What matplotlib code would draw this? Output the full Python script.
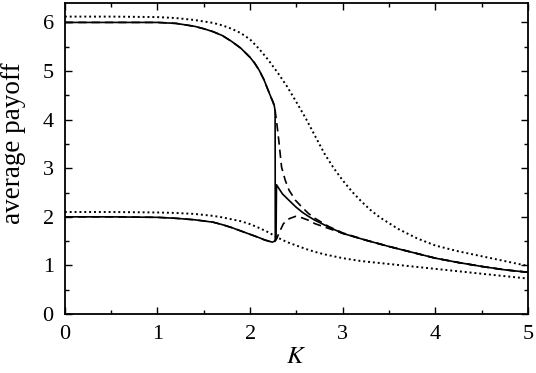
import matplotlib
matplotlib.use("Agg")
import matplotlib.pyplot as plt
from matplotlib import font_manager
from matplotlib.ticker import MultipleLocator

# upper solid branch (drops vertically near K = 2.27)
k_top = [0, 0.5, 1.0, 1.2, 1.4, 1.5, 1.6, 1.7, 1.8, 1.9, 2.0, 2.05, 2.1, 2.15, 2.2, 2.23, 2.25,
         2.26, 2.27, 2.272]
y_top = [6.0, 6.0, 6.0, 5.98, 5.92, 5.87, 5.81, 5.73, 5.61, 5.47, 5.28, 5.16, 5.01, 4.82, 4.58,
         4.44, 4.35, 4.30, 4.18, 1.52]

# lower solid branch (jumps up near K = 2.28, then decays)
k_low = [0, 0.5, 1.0, 1.2, 1.4, 1.6, 1.7, 1.8, 1.9, 2.0, 2.1, 2.15, 2.2, 2.24, 2.265, 2.28, 2.285,
         2.35, 2.42, 2.49, 2.56, 2.63, 2.70, 2.85, 3.0, 3.25, 3.5, 3.75, 4.0, 4.25, 4.5, 4.75, 5.0]
y_low = [2.0, 2.0, 1.99, 1.97, 1.94, 1.89, 1.84, 1.78, 1.71, 1.64, 1.57, 1.53, 1.50, 1.48, 1.50,
         1.56, 2.66, 2.47, 2.34, 2.21, 2.10, 2.01, 1.93, 1.79, 1.66, 1.52, 1.39, 1.27, 1.15, 1.06,
         0.98, 0.91, 0.86]

# upper dashed curve
k_dash_top = [0, 0.5, 1.0, 1.2, 1.4, 1.5, 1.6, 1.7, 1.8, 1.9, 2.0, 2.05, 2.1, 2.15, 2.2, 2.23,
              2.25, 2.27, 2.29, 2.31, 2.34, 2.38, 2.42, 2.49, 2.56, 2.63, 2.70, 2.85, 3.0, 3.25,
              3.5, 3.75, 4.0, 4.25, 4.5, 4.75, 5.0]
y_dash_top = [6.0, 6.0, 6.0, 5.98, 5.92, 5.87, 5.81, 5.73, 5.61, 5.47, 5.28, 5.16, 5.01, 4.82,
              4.58, 4.44, 4.35, 4.19, 3.90, 3.57, 3.02, 2.75, 2.55, 2.34, 2.20, 2.07, 1.97, 1.80,
              1.67, 1.52, 1.39, 1.27, 1.15, 1.06, 0.98, 0.91, 0.86]

# lower dashed curve
k_dash_low = [0, 0.5, 1.0, 1.2, 1.4, 1.6, 1.7, 1.8, 1.9, 2.0, 2.1, 2.15, 2.2, 2.24, 2.27, 2.29,
              2.31, 2.36, 2.42, 2.49, 2.56, 2.63, 2.70, 2.85, 3.0, 3.25, 3.5, 3.75, 4.0, 4.25,
              4.5, 4.75, 5.0]
y_dash_low = [2.0, 2.0, 1.99, 1.97, 1.94, 1.89, 1.84, 1.78, 1.71, 1.64, 1.57, 1.53, 1.50, 1.48,
              1.50, 1.56, 1.66, 1.86, 1.96, 2.01, 1.98, 1.93, 1.86, 1.76, 1.66, 1.52, 1.39, 1.27,
              1.15, 1.06, 0.98, 0.91, 0.86]

# dotted curves
k_dot = [0, 0.5, 1.0, 1.2, 1.4, 1.6, 1.7, 1.8, 1.9, 2.0, 2.1, 2.2, 2.3, 2.4, 2.5, 2.6, 2.7, 2.8,
         2.9, 3.0, 3.1, 3.2, 3.3, 3.4, 3.6, 3.8, 4.0, 4.25, 4.5, 4.75, 5.0]
y_dot_top = [6.12, 6.12, 6.11, 6.09, 6.05, 5.99, 5.94, 5.87, 5.78, 5.65, 5.45, 5.22, 4.96, 4.68,
             4.36, 4.03, 3.67, 3.31, 3.01, 2.75, 2.52, 2.32, 2.14, 1.99, 1.75, 1.56, 1.41, 1.29,
             1.19, 1.09, 0.99]
y_dot_low = [2.10, 2.10, 2.09, 2.08, 2.06, 2.02, 1.99, 1.95, 1.91, 1.85, 1.77, 1.68, 1.57, 1.48,
             1.41, 1.34, 1.28, 1.23, 1.19, 1.15, 1.12, 1.09, 1.07, 1.05, 1.01, 0.97, 0.93, 0.88,
             0.83, 0.78, 0.73]

x_ticks = [0, 1, 2, 3, 4, 5]
y_ticks = [0, 1, 2, 3, 4, 5, 6]

# pick a Times-like serif face if one is around
names = {f.name for f in font_manager.fontManager.ttflist}
serif = [n for n in ['Liberation Serif', 'Times New Roman', 'DejaVu Serif'] if n in names]
plt.rcParams['font.family'] = 'serif'
plt.rcParams['font.serif'] = serif + ['DejaVu Serif']
plt.rcParams['mathtext.fontset'] = 'stix'

fig = plt.figure(figsize=(5.36, 3.73), dpi=100)
ax = fig.add_axes([0.121, 0.158, 0.864, 0.834])

lw = 1.2
dots = (0, (1, 1.5))
dashes = (0, (5, 3))
ax.plot(k_dot, y_dot_top, color='black', lw=1.4, linestyle=dots)
ax.plot(k_dot, y_dot_low, color='black', lw=1.4, linestyle=dots)
ax.plot(k_dash_top, y_dash_top, color='black', lw=lw, linestyle=dashes)
ax.plot(k_dash_low, y_dash_low, color='black', lw=lw, linestyle=dashes)
ax.plot(k_top, y_top, color='black', lw=lw)
ax.plot(k_low, y_low, color='black', lw=lw)

ax.set_xlim(0, 5)
ax.set_ylim(0, 6.4)
ax.set_xticks(x_ticks)
ax.set_xticklabels([str(v) for v in x_ticks], fontsize=16)
ax.set_yticks(y_ticks)
ax.set_yticklabels([str(v) for v in y_ticks], fontsize=16)
ax.xaxis.set_minor_locator(MultipleLocator(0.5))
ax.yaxis.set_minor_locator(MultipleLocator(0.5))
ax.tick_params(which='both', direction='in', top=True, right=True, width=1)
ax.tick_params(which='major', length=5, pad=8)
ax.tick_params(which='minor', length=3)
for s in ax.spines.values():
    s.set_linewidth(1.3)

ax.set_xlabel('$K$', fontsize=18, labelpad=1)
ax.set_ylabel('average payoff', fontsize=19.5)
ax.yaxis.set_label_coords(-0.084, 0.55)

fig.savefig('out.png', dpi=100)
